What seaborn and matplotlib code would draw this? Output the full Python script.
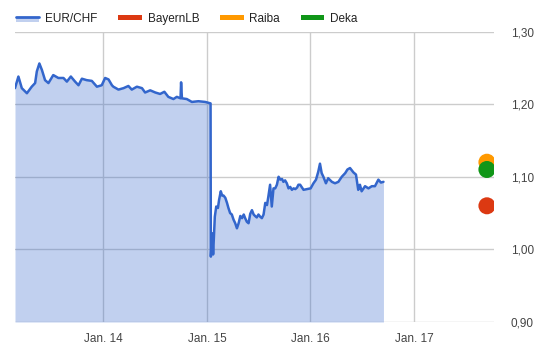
import matplotlib
matplotlib.use("Agg")
import matplotlib.pyplot as plt
from matplotlib.lines import Line2D
from matplotlib.patches import Rectangle
from matplotlib.legend_handler import HandlerBase
import pandas as pd
import seaborn as sns

# EUR/CHF exchange rate
rate_dates = [
    "2013-02-23", "2013-03-07", "2013-03-19", "2013-04-06", "2013-04-23", "2013-05-05",
    "2013-05-11", "2013-05-20", "2013-05-29", "2013-06-09", "2013-06-21", "2013-07-08",
    "2013-07-26", "2013-08-13", "2013-08-25", "2013-09-08", "2013-09-23", "2013-10-05",
    "2013-10-17", "2013-11-03", "2013-11-21", "2013-12-09", "2013-12-26",
    "2014-01-07", "2014-01-19", "2014-01-31", "2014-02-05", "2014-02-23", "2014-03-13",
    "2014-03-30", "2014-04-11", "2014-04-29", "2014-05-17", "2014-05-28", "2014-06-15",
    "2014-07-03", "2014-07-20", "2014-08-04", "2014-08-18", "2014-09-05", "2014-09-17",
    "2014-09-30", "2014-10-02", "2014-10-05", "2014-10-22", "2014-11-09", "2014-12-02",
    "2014-12-26",
    "2015-01-14", "2015-01-15", "2015-01-20", "2015-01-23", "2015-01-29", "2015-02-03",
    "2015-02-09", "2015-02-13", "2015-02-19", "2015-02-24", "2015-03-01", "2015-03-07",
    "2015-03-13", "2015-03-18", "2015-03-24", "2015-03-30", "2015-04-05", "2015-04-11",
    "2015-04-17", "2015-04-23", "2015-04-29", "2015-05-05", "2015-05-11", "2015-05-16",
    "2015-05-22", "2015-05-28", "2015-06-03", "2015-06-09", "2015-06-15", "2015-06-20",
    "2015-06-26", "2015-07-02", "2015-07-08", "2015-07-14", "2015-07-20", "2015-07-26",
    "2015-08-01", "2015-08-06", "2015-08-12", "2015-08-18", "2015-08-24", "2015-08-30",
    "2015-09-05", "2015-09-11", "2015-09-17", "2015-09-23", "2015-09-28", "2015-10-04",
    "2015-10-10", "2015-10-16", "2015-10-22", "2015-10-28", "2015-11-03", "2015-11-09",
    "2015-11-15", "2015-11-20", "2015-11-26", "2015-12-08", "2015-12-20",
    "2016-01-02", "2016-01-12", "2016-01-21", "2016-01-29", "2016-02-04", "2016-02-10",
    "2016-02-16", "2016-02-25", "2016-03-04", "2016-03-17", "2016-03-28", "2016-04-09",
    "2016-04-21", "2016-05-03", "2016-05-11", "2016-05-20", "2016-06-01", "2016-06-10",
    "2016-06-18", "2016-06-24", "2016-06-30", "2016-07-12", "2016-07-24", "2016-08-05",
    "2016-08-16", "2016-08-28", "2016-09-06", "2016-09-15",
]
rate_values = [
    1.222, 1.238, 1.222, 1.215, 1.224, 1.229,
    1.245, 1.256, 1.247, 1.233, 1.229, 1.240,
    1.236, 1.236, 1.231, 1.238, 1.231, 1.226,
    1.235, 1.233, 1.232, 1.224, 1.226,
    1.236, 1.234, 1.226, 1.224, 1.220, 1.222,
    1.225, 1.220, 1.224, 1.222, 1.216, 1.219,
    1.216, 1.214, 1.217, 1.210, 1.207, 1.210,
    1.208, 1.230, 1.208, 1.207, 1.203, 1.204,
    1.203,
    1.201, 0.990, 1.022, 0.993, 1.045, 1.059,
    1.057, 1.068, 1.080, 1.074, 1.074, 1.071,
    1.064, 1.057, 1.050, 1.048, 1.041, 1.036,
    1.029, 1.036, 1.046, 1.043, 1.048, 1.043,
    1.038, 1.036, 1.049, 1.054, 1.048, 1.046,
    1.044, 1.048, 1.045, 1.043, 1.048, 1.064,
    1.061, 1.073, 1.089, 1.059, 1.084, 1.084,
    1.089, 1.100, 1.096, 1.097, 1.093, 1.095,
    1.091, 1.084, 1.086, 1.082, 1.084, 1.083,
    1.085, 1.089, 1.089, 1.082, 1.083,
    1.084, 1.091, 1.096, 1.107, 1.118, 1.105,
    1.100, 1.091, 1.098, 1.093, 1.091, 1.093,
    1.100, 1.105, 1.110, 1.112, 1.106, 1.103,
    1.082, 1.089, 1.080, 1.087, 1.084, 1.087,
    1.087, 1.096, 1.092, 1.093,
]

# Bank forecasts
forecast_names = ["BayernLB", "Raiba", "Deka"]
forecast_date = "2017-09-15"
forecast_values = [1.06, 1.12, 1.11]
forecast_colors = ["#dc3912", "#ff9900", "#109618"]

y_ticks = [0.90, 1.00, 1.10, 1.20, 1.30]
y_tick_labels = ["0,90", "1,00", "1,10", "1,20", "1,30"]
x_ticks = ["2014-01-01", "2015-01-01", "2016-01-01", "2017-01-01"]
x_tick_labels = ["Jan. 14", "Jan. 15", "Jan. 16", "Jan. 17"]

LINE = "#3366cc"
GRID = "#cccccc"
TEXT = "#444444"

sns.set_style("white")
plt.rcParams["font.family"] = ["Liberation Sans", "DejaVu Sans"]

df = pd.DataFrame({"date": pd.to_datetime(rate_dates), "rate": rate_values})
fc = pd.DataFrame({"bank": forecast_names,
                   "date": pd.to_datetime([forecast_date] * 3),
                   "value": forecast_values})

fig = plt.figure(figsize=(5.42, 3.5), dpi=100)
ax = fig.add_axes([15 / 542, 28 / 350, (494 - 15) / 542, (322 - 31.5) / 350])

ax.set_ylim(0.90, 1.30)
ax.set_xlim(pd.Timestamp("2013-02-23"), pd.Timestamp("2017-10-10"))

# grid behind the area
for y in y_ticks:
    ax.axhline(y, color=GRID, lw=1, zorder=0)
for xt in x_ticks:
    ax.axvline(pd.Timestamp(xt), color=GRID, lw=1, zorder=0)

ax.fill_between(df["date"], df["rate"], 0.90, color=LINE, alpha=0.3, lw=0, zorder=1)
sns.lineplot(data=df, x="date", y="rate", ax=ax, color=LINE, lw=1.8, zorder=3)

order = [1, 2, 0]  # Raiba first, Deka over it, then BayernLB
sns.scatterplot(data=fc.iloc[order], x="date", y="value", hue="bank",
                palette=dict(zip(forecast_names, forecast_colors)),
                s=150, edgecolor="none", ax=ax, legend=False, zorder=4)

for s in ax.spines.values():
    s.set_visible(False)

ax.set_yticks(y_ticks)
ax.set_yticklabels(y_tick_labels)
ax.yaxis.tick_right()
ax.tick_params(axis="y", length=0, pad=12, labelsize=8.5, labelcolor=TEXT)
ax.set_xticks(pd.to_datetime(x_ticks))
ax.set_xticklabels(x_tick_labels)
ax.tick_params(axis="x", length=0, pad=8, labelsize=8.5, labelcolor=TEXT)
ax.set_xlabel("")
ax.set_ylabel("")


class AreaHandler(HandlerBase):
    def create_artists(self, legend, orig, xd, yd, w, h, fontsize, trans):
        band = Rectangle((xd, yd), w, h * 0.55, facecolor=LINE, alpha=0.3,
                         edgecolor="none", transform=trans)
        top = Line2D([xd, xd + w], [yd + h * 0.55, yd + h * 0.55], color=LINE,
                     lw=2, transform=trans)
        return [band, top]


class BarHandler(HandlerBase):
    def create_artists(self, legend, orig, xd, yd, w, h, fontsize, trans):
        r = Rectangle((xd, yd + h * 0.2), w, h * 0.6, facecolor=orig.get_color(),
                      edgecolor="none", transform=trans)
        return [r]


handles = [Line2D([], [], color=LINE)] + [Line2D([], [], color=c) for c in forecast_colors]
labels = ["EUR/CHF"] + forecast_names
hmap = {handles[0]: AreaHandler()}
for h in handles[1:]:
    hmap[h] = BarHandler()
fig.legend(handles, labels, handler_map=hmap, loc="upper left",
           bbox_to_anchor=(5 / 542, 1 - 2 / 350), ncol=4, frameon=False,
           fontsize=8.5, handlelength=2.0, handleheight=0.7, handletextpad=0.5,
           columnspacing=1.75, labelcolor="#222222")

fig.savefig("out.png", dpi=100)
